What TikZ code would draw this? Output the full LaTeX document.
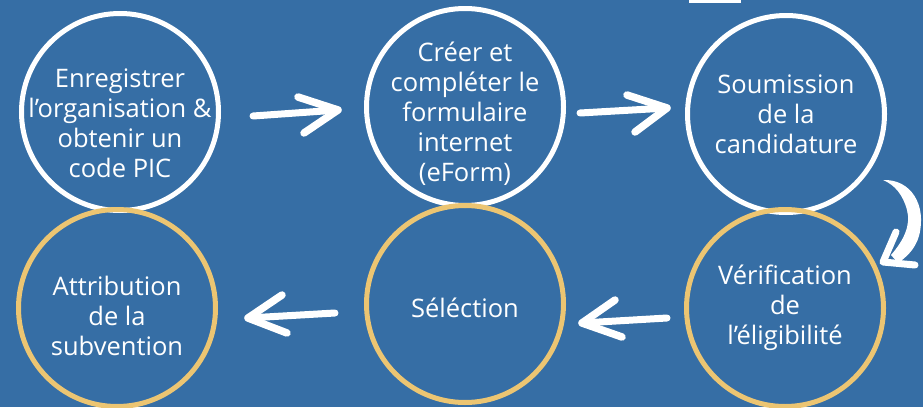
\documentclass[tikz,border=0pt]{standalone}
\usepackage{fontspec}
\setmainfont{Open Sans}
\usetikzlibrary{calc}
\definecolor{bgblue}{RGB}{54,110,165}
\definecolor{gold}{RGB}{236,197,114}
\tikzset{
  stepcirc/.style={circle, line width=5pt, minimum size=197pt, inner sep=0pt},
  topcirc/.style={stepcirc, draw=white},
  botcirc/.style={stepcirc, draw=gold},
  steptext/.style={text=white, align=center, inner sep=0pt,
    font=\fontsize{25.5}{30}\selectfont},
  shaft/.style={draw=white, line width=7pt, line cap=round},
  head/.style={draw=white, line width=7.5pt, line cap=round, line join=round},
}
\begin{document}
\begin{tikzpicture}[x=1pt, y=-1pt]
\fill[bgblue] (0,0) rectangle (923,407);
\useasboundingbox (0,0) rectangle (923,407);
\fill[white] (689,0) rectangle (741,2.5);

\node[topcirc, label={[steptext, yshift=-11pt]center:Enregistrer\\l’organisation \&\\obtenir un\\code PIC}] (c1) at (120,112) {};
\node[topcirc, label={[steptext, yshift=-7pt]center:Créer et\\compléter le\\formulaire\\internet\\(eForm)}] (c2) at (465,107) {};
\node[topcirc, label={[steptext, yshift=0pt]center:Soumission\\de la\\candidature}] (c3) at (786,114) {};
\node[botcirc, label={[steptext, yshift=0pt]center:Vérification\\de\\l’éligibilité}] (c6) at (785,308) {};
\node[botcirc, label={[steptext, yshift=-4pt]center:Séléction}] (c5) at (465,304) {};
\node[botcirc, label={[steptext, yshift=-8pt]center:Attribution\\de la\\subvention}] (c4) at (117,308) {};

% arrow c1 -> c2
\coordinate (a1s) at ($(c1.center)+(133,4)$);
\coordinate (a1t) at ($(c2.center)+(-127,3)$);
\draw[shaft] (a1s) -- (a1t);
\draw[head] ($(a1t)+(-40,-13)$) -- (a1t) -- ($(a1t)+(-34,23)$);

% arrow c2 -> c3
\coordinate (a2s) at ($(c2.center)+(115,6)$);
\coordinate (a2t) at ($(c3.center)+(-119,-6)$);
\draw[shaft] (a2s) -- (a2t);
\draw[head] ($(a2t)+(-40,-13)$) -- (a2t) -- ($(a2t)+(-32,24)$);

% arrow c6 -> c5
\coordinate (a4s) at ($(c6.center)+(-118,10)$);
\coordinate (a4t) at ($(c5.center)+(117,19)$);
\draw[shaft] (a4s) -- (a4t);
\draw[head] ($(a4t)+(33,-23)$) -- (a4t) -- ($(a4t)+(40,14)$);

% arrow c5 -> c4
\coordinate (a5s) at ($(c5.center)+(-130,9)$);
\coordinate (a5t) at ($(c4.center)+(131,10)$);
\draw[shaft] (a5s) -- (a5t);
\draw[head] ($(a5t)+(34,-23)$) -- (a5t) -- ($(a5t)+(39,15)$);

% curved arrow c3 -> c6
\coordinate (cs) at ($(c3.center)+(97,66)$);
\coordinate (ct) at ($(c6.center)+(98,-46)$);
\fill[white] (cs) .. controls ($(cs)+(28,-1)$) and ($(cs)+(44,25)$) .. ($(cs)+(36,56)$)
  .. controls ($(cs)+(32,70)$) and ($(cs)+(22,78)$) .. ($(cs)+(15,83)$)
  -- ($(cs)+(8,75)$)
  .. controls ($(cs)+(21,60)$) and ($(cs)+(28,45)$) .. ($(cs)+(24,30)$)
  .. controls ($(cs)+(20,15)$) and ($(cs)+(12,5)$) .. (cs) -- cycle;
\draw[head, line width=7pt] ($(ct)+(13,-30)$) -- (ct) -- ($(ct)+(32,3)$);
\end{tikzpicture}
\end{document}
